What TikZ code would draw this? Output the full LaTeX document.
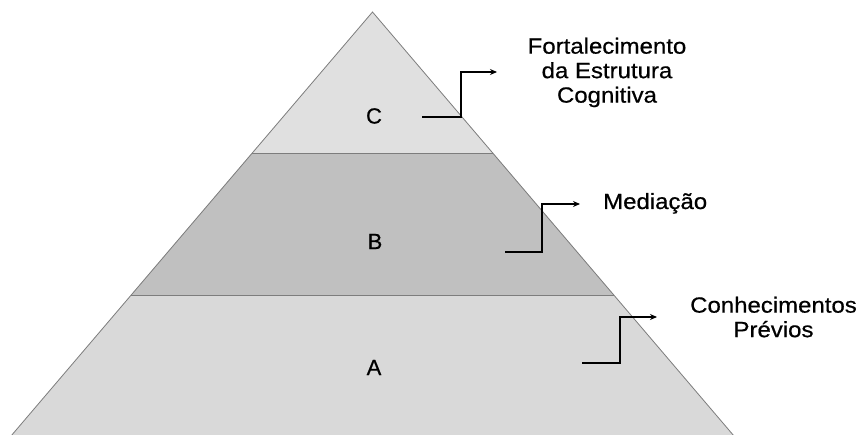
\documentclass[tikz,border=0pt]{standalone}
\usepackage{fontspec}
\setmainfont[FakeBold=0.6]{Liberation Sans}
\newfontfamily\lblfont[FakeStretch=1.09,FakeBold=0.6]{Liberation Sans}
\usetikzlibrary{arrows.meta}
\definecolor{layerC}{RGB}{224,224,224}
\definecolor{layerB}{RGB}{192,192,192}
\definecolor{layerA}{RGB}{217,217,217}
\definecolor{edge}{RGB}{125,125,125}
\tikzset{
  layer/.style={draw=edge, line width=0.8pt, line join=miter},
  letter/.style={inner sep=0pt, font=\fontsize{22}{24}\selectfont},
  lbl/.style={inner sep=0pt, align=center, font=\lblfont\fontsize{22}{24.5}\selectfont},
  conn/.style={line width=1.9pt, -{Stealth[length=7pt,width=6pt]}}
}
\begin{document}
\begin{tikzpicture}[x=1pt,y=-1pt]
\useasboundingbox (0,0) rectangle (862,435);
% layers
\coordinate (apex) at (372.5,12);
\coordinate (cl) at (252,153);
\coordinate (cr) at (493,153);
\coordinate (bl) at (131,295);
\coordinate (br) at (614,295);
\coordinate (al) at (11,436);
\coordinate (ar) at (734,436);
\fill[layerA] (bl) -- (br) -- (ar) -- (al) -- cycle;
\fill[layerB] (cl) -- (cr) -- (br) -- (bl) -- cycle;
\fill[layerC] (apex) -- (cr) -- (cl) -- cycle;
\draw[layer] (al) -- (apex) -- (ar);
\draw[layer] (cl) -- (cr);
\draw[layer] (bl) -- (br);
% letters
\node[letter] (C) at (374,116) {C};
\node[letter] (B) at (375,241.5) {B};
\node[letter] (A) at (374,367.5) {A};
% labels
\node[lbl, anchor=north] (tC) at (607,37.5) {Fortalecimento\\da Estrutura\\Cognitiva};
\node[lbl, anchor=base west] (tB) at (603,209) {Mediação};
\node[lbl, anchor=north] (tA) at (773.5,296.5) {Conhecimentos\\Prévios};
% connectors
\coordinate (sC) at (422,117);
\coordinate (eC) at (497,72);
\coordinate (sB) at (505,252);
\coordinate (eB) at (580,204);
\coordinate (sA) at (582,363);
\coordinate (eA) at (657,317);
\draw[conn] (sC) -- (461,117) |- (eC);
\draw[conn] (sB) -- (542,252) |- (eB);
\draw[conn] (sA) -- (620,363) |- (eA);
\end{tikzpicture}
\end{document}
